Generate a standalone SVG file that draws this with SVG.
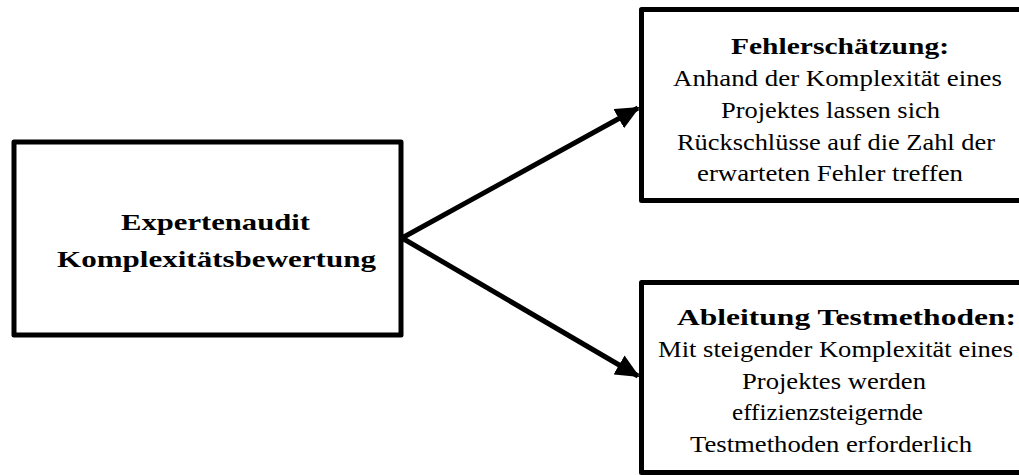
<svg xmlns="http://www.w3.org/2000/svg" width="1019" height="475" viewBox="0 0 1019 475">
<defs>
<style>
.box{fill:#fff;stroke:#000;stroke-width:5;stroke-linejoin:round}
.t{font-family:"Liberation Serif","DejaVu Serif","Times New Roman",serif;font-size:23px;fill:#000}
.b{font-family:"Liberation Serif","DejaVu Serif","Times New Roman",serif;font-size:23px;font-weight:bold;fill:#000}
.c{stroke:#000;stroke-width:5;fill:none}
</style>
<marker id="ah" markerUnits="userSpaceOnUse" markerWidth="24" markerHeight="22" viewBox="0 0 24 22" refX="22" refY="11" orient="auto">
<path d="M0,0 L24,11 L0,22 Z" fill="#000"/>
</marker>
</defs>
<rect width="1019" height="475" fill="#fff"/>
<g id="connectors">
<line class="c" x1="402" y1="238" x2="638" y2="108" marker-end="url(#ah)"/>
<line class="c" x1="402" y1="238" x2="638" y2="376" marker-end="url(#ah)"/>
</g>
<g id="node-expertenaudit">
<rect class="box" x="14" y="142" width="387" height="193"/>
<text class="b" x="121" y="230" textLength="189" lengthAdjust="spacingAndGlyphs">Expertenaudit</text>
<text class="b" x="57" y="267" textLength="319" lengthAdjust="spacingAndGlyphs">Komplexitätsbewertung</text>
</g>
<g id="node-fehlerschaetzung">
<rect class="box" x="641.5" y="9.5" width="400" height="191"/>
<text class="b" x="731" y="54" textLength="218" lengthAdjust="spacingAndGlyphs">Fehlerschätzung:</text>
<text class="t" x="673" y="86" textLength="329" lengthAdjust="spacingAndGlyphs">Anhand der Komplexität eines</text>
<text class="t" x="721" y="118" textLength="219" lengthAdjust="spacingAndGlyphs">Projektes lassen sich</text>
<text class="t" x="677" y="150" textLength="318" lengthAdjust="spacingAndGlyphs">Rückschlüsse auf die Zahl der</text>
<text class="t" x="697" y="181" textLength="266" lengthAdjust="spacingAndGlyphs">erwarteten Fehler treffen</text>
</g>
<g id="node-ableitung">
<rect class="box" x="641.5" y="282.5" width="400" height="190"/>
<text class="b" x="677" y="325" textLength="339" lengthAdjust="spacingAndGlyphs">Ableitung Testmethoden:</text>
<text class="t" x="658" y="357" textLength="355" lengthAdjust="spacingAndGlyphs">Mit steigender Komplexität eines</text>
<text class="t" x="742" y="389" textLength="184" lengthAdjust="spacingAndGlyphs">Projektes werden</text>
<text class="t" x="732" y="420" textLength="191" lengthAdjust="spacingAndGlyphs">effizienzsteigernde</text>
<text class="t" x="690" y="452" textLength="282" lengthAdjust="spacingAndGlyphs">Testmethoden erforderlich</text>
</g>
</svg>
